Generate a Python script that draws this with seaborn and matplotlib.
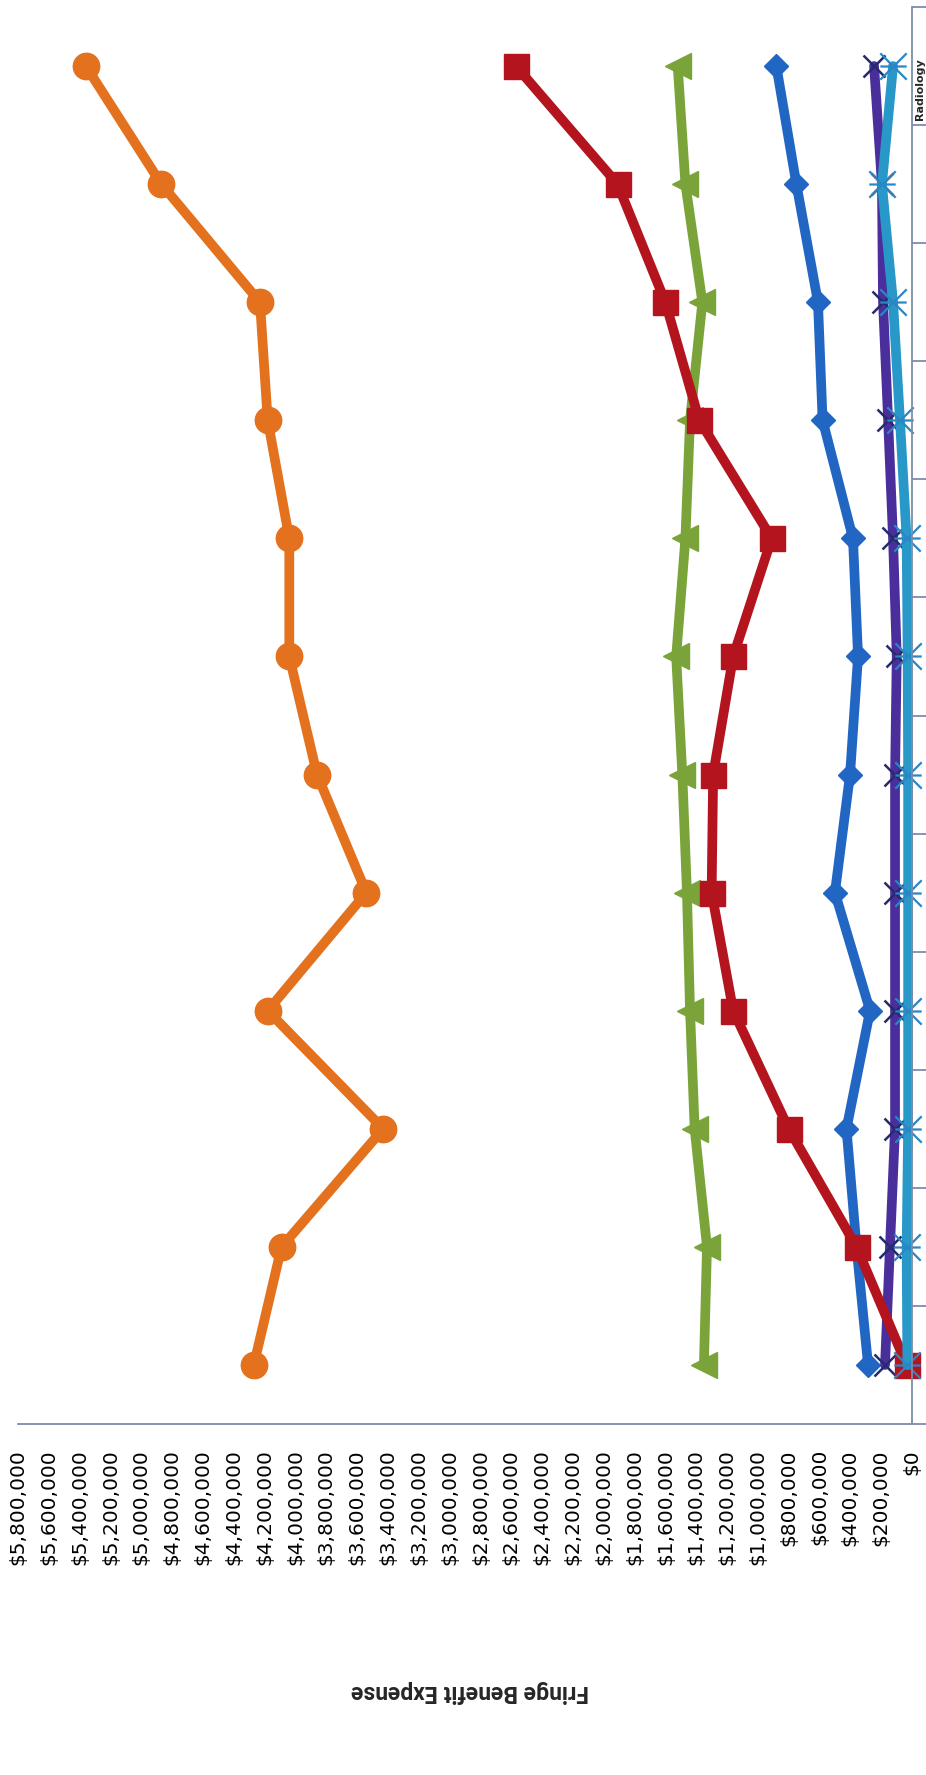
import numpy as np
import pandas as pd
import matplotlib
matplotlib.use("Agg")
import matplotlib.pyplot as plt
from matplotlib.path import Path
import seaborn as sns

periods = ["P1", "P2", "P3", "P4", "P5", "P6", "P7", "P8", "P9", "P10", "P11", "P12"]
orange_vals = [4270000, 4090000, 3430000, 4180000, 3540000, 3860000,
               4040000, 4040000, 4180000, 4230000, 4870000, 5360000]
red_vals = [35000, 360000, 800000, 1160000, 1300000, 1290000,
            1160000, 910000, 1380000, 1600000, 1910000, 2570000]
green_vals = [1350000, 1330000, 1410000, 1440000, 1460000, 1490000,
              1530000, 1470000, 1440000, 1360000, 1470000, 1520000]
blue_vals = [285000, 360000, 425000, 272000, 500000, 402000,
             350000, 383000, 580000, 610000, 750000, 880000]
purple_vals = [175000, 143000, 110000, 110000, 110000, 110000,
               99000, 123000, 155000, 188000, 195000, 246000]
cyan_vals = [30000, 35000, 25000, 25000, 25000, 25000,
             28000, 35000, 78000, 123000, 195000, 123000]
value_ticks = np.arange(0, 5800001, 200000)

series = {
    "orange": orange_vals,
    "red": red_vals,
    "green": green_vals,
    "blue": blue_vals,
    "purple": purple_vals,
    "cyan": cyan_vals,
}
df = pd.DataFrame([
    {"series": s, "period": p, "pos": i, "value": v}
    for s, vals in series.items()
    for i, (p, v) in enumerate(zip(periods, vals))
])

# X with a horizontal bar (Excel star marker, turned on its side)
star = Path([(-1, -1), (1, 1), (-1, 1), (1, -1), (-1, 0), (1, 0)],
            [Path.MOVETO, Path.LINETO] * 3)

styles = {
    #          line colour  marker size  edge colour  edge w  z
    "blue":   ("#2166c2", "D", 12, "#2166c2", 1.0, 2.0),
    "purple": ("#4a2f9c", "x", 16, "#262a6e", 1.8, 2.1),
    "green":  ("#7aa43a", "<", 19, "#7aa43a", 1.0, 2.2),
    "orange": ("#e3711e", "o", 19, "#e3711e", 1.0, 2.3),
    "red":    ("#b3141e", "s", 18, "#b3141e", 1.0, 2.4),
    "cyan":   ("#2898c9", star, 19, "#2a86c4", 1.6, 2.5),
}

sns.set_style("white")
plt.rcParams["font.family"] = ["DejaVu Sans"]

fig = plt.figure(figsize=(9.26, 17.75), dpi=100)
ax = fig.add_axes([18 / 926, 351 / 1775, 894 / 926, 1417 / 1775])

for name, (c, m, ms, mec, mew, z) in styles.items():
    sns.lineplot(data=df[df["series"] == name], x="value", y="pos", orient="y",
                 sort=False, errorbar=None, legend=False, ax=ax, color=c,
                 lw=7, marker=m, markersize=ms, mfc=c, mec=mec, mew=mew,
                 zorder=z, clip_on=False)

axis_c = "#7d8cab"
ax.set_xlim(5800000, 0)
ax.set_ylim(-0.5, 11.5)
ax.set_xticks(value_ticks)
ax.set_xticklabels([f"${v:,.0f}" for v in value_ticks], rotation=90)
ax.tick_params(axis="x", length=0, pad=18, labelsize=14.5, colors="black")
ax.set_yticks([])
ax.set_yticks(np.arange(-0.5, 12, 1), minor=True)
ax.yaxis.tick_right()
ax.tick_params(axis="y", which="minor", length=12, width=1.3, color=axis_c,
               left=False, right=True)
ax.set_xlabel("")
ax.set_ylabel("")
for side in ["left", "top"]:
    ax.spines[side].set_visible(False)
for side in ["bottom", "right"]:
    ax.spines[side].set_color(axis_c)
    ax.spines[side].set_linewidth(1.3)

# axis title (upside down in the scan)
fig.text(470 / 926, 83 / 1775, "Fringe Benefit Expense", rotation=180,
         ha="center", va="center", fontsize=16.5, fontweight="bold",
         family=["Roboto", "DejaVu Sans"])

# cut-off data table cell at the right edge
fig.text(914.5 / 926, (1775 - 120) / 1775, "Radiology", rotation=90,
         ha="left", va="bottom", fontsize=8, fontweight="bold")

fig.savefig("out.png", dpi=100, facecolor="white")
